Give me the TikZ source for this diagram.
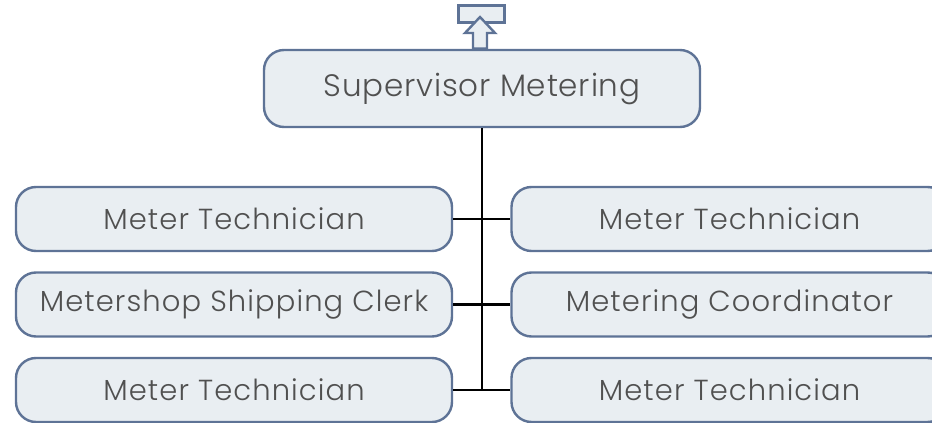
\documentclass[tikz,border=0pt]{standalone}
\usepackage{fontspec}
\setmainfont{Poppins Light}
\usepackage{xcolor}
\definecolor{meterframe}{HTML}{5E7396}
\definecolor{meterfill}{HTML}{E9EEF2}
\definecolor{metertext}{HTML}{505050}
\usetikzlibrary{positioning}

\begin{document}
\begin{tikzpicture}[
  x=1pt, y=-1pt,
  post/.style={rectangle, rounded corners=20pt, draw=meterframe, fill=meterfill, line width=2.4pt, text=metertext, minimum width=436pt, inner sep=0pt, align=center},
  head/.style={post, minimum height=77pt, font=\fontsize{31}{36}\selectfont\addfontfeature{LetterSpace=2.6}},
  staff/.style={post, minimum height=64pt, font=\fontsize{29}{34}\selectfont\addfontfeature{LetterSpace=3.8}},
  ln/.style={black, line width=2.8pt},
  icon/.style={draw=meterframe, fill=meterfill, line width=2.4pt, line join=miter},
]
\useasboundingbox (0,0) rectangle (932,423);
\clip (0,0) rectangle (932,423);
% ---------------- head of the unit
\node[head] (sup) at (482,88.5) {Supervisor Metering};
% ---------------- left column
\node[staff] (l1) at (234,219) {Meter Technician};
\node[staff] (l2) at (234,304.5) {Metershop Shipping Clerk};
\node[staff] (l3) at (234,390) {Meter Technician};
% ---------------- right column (cut by the page edge)
\node[staff] (r1) at (729.5,219) {Meter Technician};
\node[staff] (r2) at (729.5,304.5) {Metering Coordinator};
\node[staff] (r3) at (729.5,390) {Meter Technician};
% ---------------- connectors
\coordinate (trunk) at (482,390);
\draw[ln] (sup.south) -- (trunk);
\draw[ln] (l1.east) -- (r1.west);
\draw[ln] (l2.east) -- (r2.west);
\draw[ln] (l3.east) -- (r3.west);
% ---------------- up icon above the head box
\draw[icon] (458.5,5.5) rectangle (504.5,22.5);
\draw[icon] (480,17) -- (495,33) -- (487,33) -- (487,48.5) -- (473,48.5) -- (473,33) -- (465,33) -- cycle;
\end{tikzpicture}
\end{document}
